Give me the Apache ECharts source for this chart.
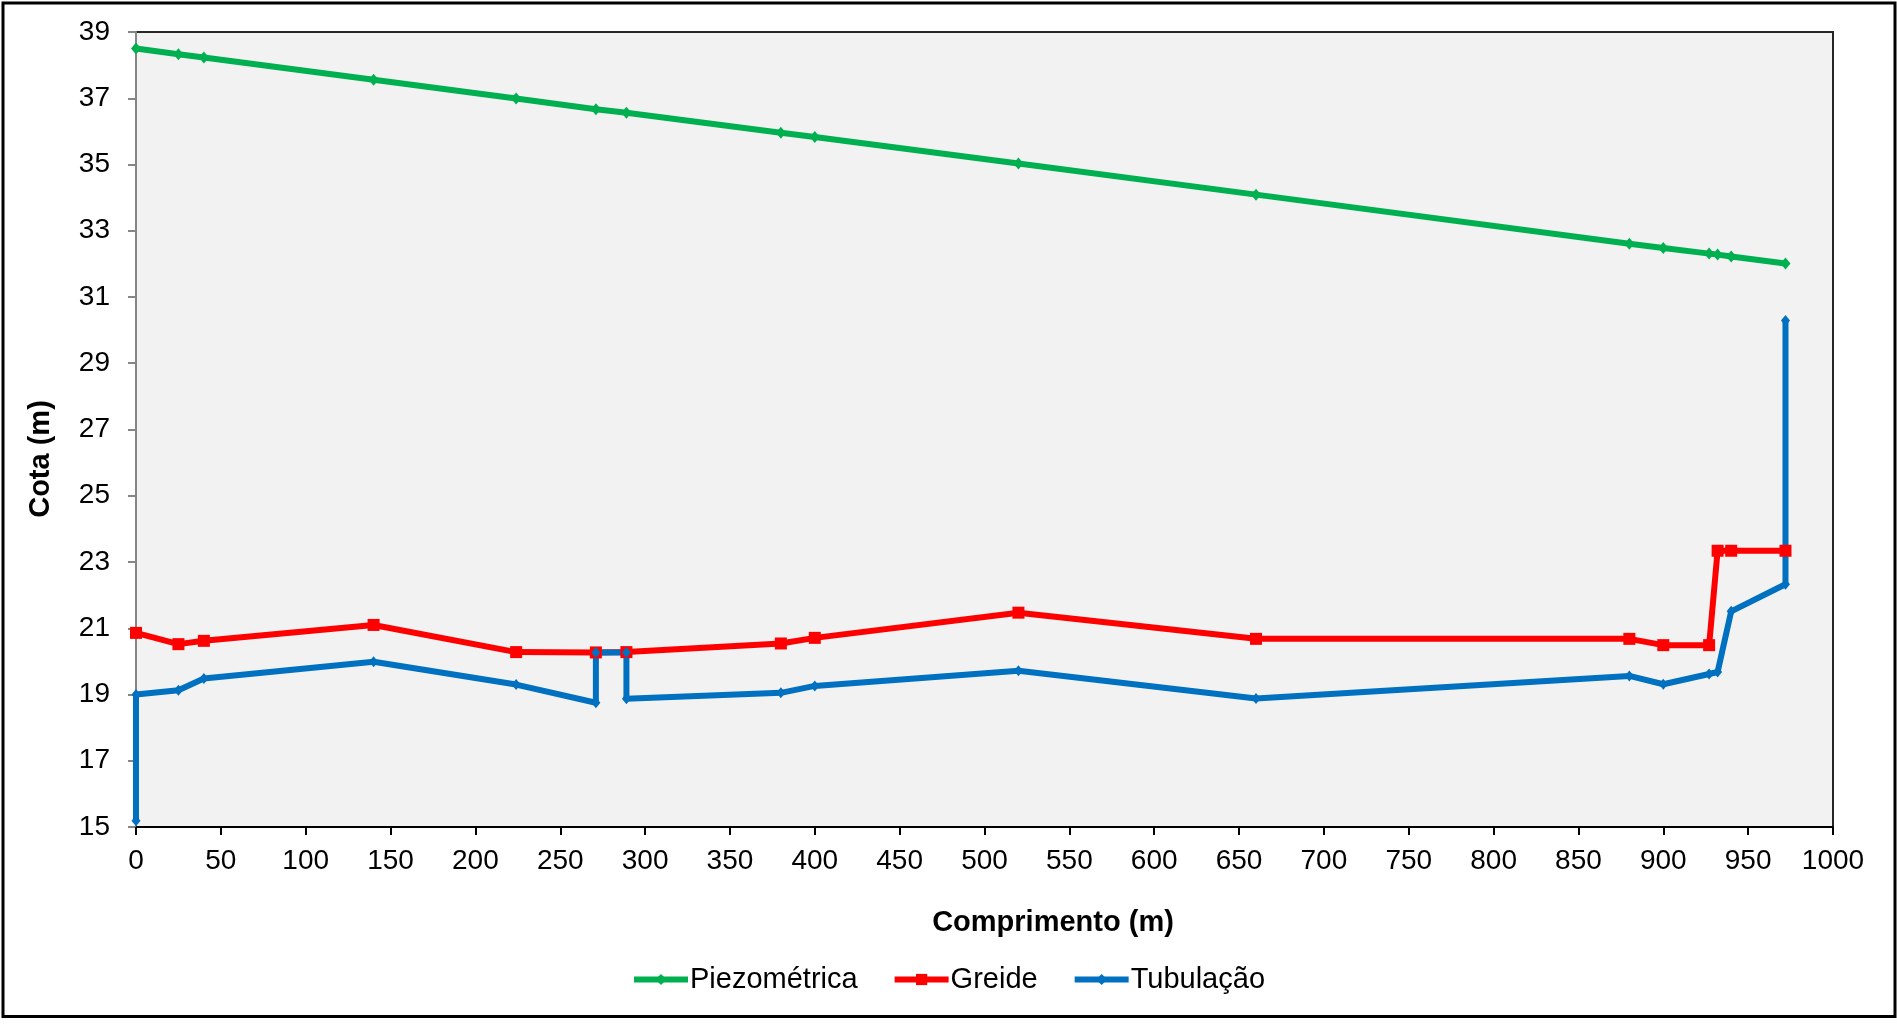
<!DOCTYPE html>
<html>
<head>
<meta charset="utf-8">
<title>Perfil da adutora</title>
<script src="https://cdn.jsdelivr.net/npm/echarts@6/dist/echarts.min.js"></script>
<style>
  html, body { margin: 0; padding: 0; background: #ffffff; }
  #chart { width: 1897px; height: 1024px; }
</style>
</head>
<body>
<div id="chart"></div>
<script>
// Distância acumulada (m) dos pontos da piezométrica e do greide
const distancias = [0, 25, 40, 140, 224, 271, 289, 380, 400, 520, 660, 880, 900, 927, 932, 940, 972];
// Cota piezométrica (m)
const cotaPiezometrica = [38.50, 38.33, 38.23, 37.56, 36.99, 36.67, 36.56, 35.96, 35.83, 35.03, 34.09, 32.61, 32.48, 32.31, 32.28, 32.22, 32.01];
// Cota do greide (m)
const cotaGreide = [20.86, 20.52, 20.62, 21.10, 20.28, 20.27, 20.28, 20.54, 20.71, 21.47, 20.68, 20.68, 20.49, 20.49, 23.34, 23.34, 23.34];
// Tubulação: inclui os trechos verticais (mesma distância, duas cotas)
const distTubulacao = [0, 0, 25, 40, 140, 224, 271, 271, 289, 289, 380, 400, 520, 660, 880, 900, 927, 932, 940, 972, 972];
const cotaTubulacao = [15.19, 19.00, 19.13, 19.48, 19.99, 19.30, 18.75, 20.27, 20.27, 18.87, 19.05, 19.26, 19.72, 18.88, 19.56, 19.31, 19.62, 19.68, 21.51, 22.33, 30.29];

const nomesSeries = ['Piezométrica', 'Greide', 'Tubulação'];
const tituloX = 'Comprimento (m)';
const tituloY = 'Cota (m)';

const pares = (xs, ys) => xs.map((x, i) => [x, ys[i]]);

const fonte = "'Liberation Sans', Arial, sans-serif";

const chart = echarts.init(document.getElementById('chart'), null, { renderer: 'canvas' });

chart.setOption({
  animation: false,
  backgroundColor: '#ffffff',
  textStyle: { fontFamily: fonte },
  grid: {
    left: 136, top: 32, right: 64, bottom: 197,
    show: true,
    backgroundColor: '#f2f2f2',
    borderColor: '#262626',
    borderWidth: 2,
    containLabel: false
  },
  xAxis: {
    type: 'value',
    min: 0, max: 1000, interval: 50,
    axisLine: { show: true, onZero: false, lineStyle: { color: '#000000', width: 2 } },
    axisTick: { show: true, inside: false, length: 8, lineStyle: { color: '#000000', width: 2 } },
    axisLabel: { color: '#000000', fontSize: 28, fontFamily: fonte, margin: 20, formatter: (v) => String(v) },
    splitLine: { show: false }
  },
  yAxis: {
    type: 'value',
    min: 15, max: 39, interval: 2,
    axisLine: { show: true, onZero: false, lineStyle: { color: '#868686', width: 2 } },
    axisTick: { show: true, inside: false, length: 8, lineStyle: { color: '#868686', width: 2 } },
    axisLabel: { color: '#000000', fontSize: 28, fontFamily: fonte, margin: 26, formatter: (v) => String(v) },
    splitLine: { show: false }
  },
  legend: {
    left: 626,
    top: 960,
    itemWidth: 54,
    itemHeight: 14,
    itemGap: 34,
    lineStyle: { width: 6 },
    textStyle: { color: '#000000', fontSize: 29, fontFamily: fonte, padding: [0, 0, 0, -3] },
    data: nomesSeries
  },
  series: [
    {
      name: nomesSeries[0],
      type: 'line',
      data: pares(distancias, cotaPiezometrica),
      symbol: 'diamond',
      symbolSize: [10, 12],
      showAllSymbol: true,
      lineStyle: { color: '#00b050', width: 6 },
      itemStyle: { color: '#00b050' }
    },
    {
      name: nomesSeries[1],
      type: 'line',
      data: pares(distancias, cotaGreide),
      symbol: 'rect',
      symbolSize: 12,
      showAllSymbol: true,
      lineStyle: { color: '#ff0000', width: 6 },
      itemStyle: { color: '#ff0000' }
    },
    {
      name: nomesSeries[2],
      type: 'line',
      data: pares(distTubulacao, cotaTubulacao),
      symbol: 'diamond',
      symbolSize: [9, 11],
      showAllSymbol: true,
      lineStyle: { color: '#0070c0', width: 6 },
      itemStyle: { color: '#0070c0' }
    }
  ],
  graphic: [
    {
      type: 'rect',
      shape: { x: 3, y: 3, width: 1892, height: 1013.5 },
      style: { fill: 'none', stroke: '#000000', lineWidth: 3 },
      silent: true,
      z: 100
    },
    {
      type: 'text',
      x: 1053, y: 923,
      style: {
        text: tituloX,
        font: "bold 29px 'Liberation Sans', Arial, sans-serif",
        fill: '#000000',
        align: 'center',
        verticalAlign: 'middle'
      }
    },
    {
      type: 'text',
      x: 41, y: 459,
      rotation: Math.PI / 2,
      style: {
        text: tituloY,
        font: "bold 29px 'Liberation Sans', Arial, sans-serif",
        fill: '#000000',
        align: 'center',
        verticalAlign: 'middle'
      }
    }
  ]
});
</script>
</body>
</html>
